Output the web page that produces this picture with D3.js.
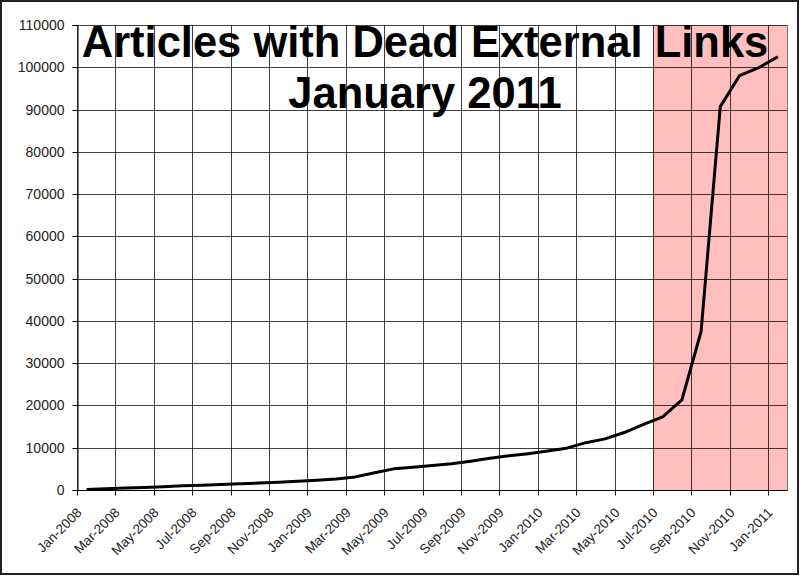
<!DOCTYPE html>
<html>
<head>
<meta charset="utf-8">
<script src="https://cdn.jsdelivr.net/npm/d3@7"></script>
<style>
  html, body { margin: 0; padding: 0; background: #fff; }
  svg { display: block; }
</style>
</head>
<body>
<svg id="chart" width="800" height="576"></svg>
<script>
const months = [
  "Jan-2008","Feb-2008","Mar-2008","Apr-2008","May-2008","Jun-2008","Jul-2008","Aug-2008","Sep-2008","Oct-2008","Nov-2008","Dec-2008",
  "Jan-2009","Feb-2009","Mar-2009","Apr-2009","May-2009","Jun-2009","Jul-2009","Aug-2009","Sep-2009","Oct-2009","Nov-2009","Dec-2009",
  "Jan-2010","Feb-2010","Mar-2010","Apr-2010","May-2010","Jun-2010","Jul-2010","Aug-2010","Sep-2010","Oct-2010","Nov-2010","Dec-2010",
  "Jan-2011"
];
const deadLinks = [
  100, 300, 500, 600, 750, 1000, 1150, 1300, 1450, 1650, 1850, 2050,
  2300, 2600, 3100, 4100, 5000, 5400, 5800, 6200, 6800, 7500, 8100, 8600,
  9200, 9900, 11200, 12100, 13600, 15500, 17300, 21300, 37500, 90700, 98000, 99900,
  102500
];
const xTickLabels = months.filter((d, i) => i % 2 === 0);
const yTicks = [0, 10000, 20000, 30000, 40000, 50000, 60000, 70000, 80000, 90000, 100000, 110000];
const highlightStart = "Jul-2010";
const titleLines = ["Articles with Dead External Links", "January 2011"];

const svg = d3.select("#chart");
const mLeft = 77, mRight = 787.5, mTop = 25, mBottom = 490;

const x = d3.scaleBand().domain(months).range([mLeft, mRight]).padding(0);
const y = d3.scaleLinear().domain([0, 110000]).range([mBottom, mTop]);

// outer border
svg.append("rect").attr("x", 1).attr("y", 1).attr("width", 797).attr("height", 573)
  .attr("fill", "#fff").attr("stroke", "#222").attr("stroke-width", 2);

// highlight region
svg.append("rect")
  .attr("x", x(highlightStart)).attr("y", mTop)
  .attr("width", mRight - x(highlightStart)).attr("height", mBottom - mTop)
  .attr("fill", "#ffbfbf");

// horizontal gridlines
svg.append("g").selectAll("line").data(yTicks).join("line")
  .attr("x1", mLeft).attr("x2", mRight)
  .attr("y1", d => Math.round(y(d)) + 0.5).attr("y2", d => Math.round(y(d)) + 0.5)
  .attr("stroke", "#000").attr("stroke-opacity", 0.75).attr("stroke-width", 1);

// vertical gridlines
svg.append("g").selectAll("line").data(xTickLabels).join("line")
  .attr("x1", d => Math.round(x(d)) + 0.5).attr("x2", d => Math.round(x(d)) + 0.5)
  .attr("y1", mTop).attr("y2", mBottom)
  .attr("stroke", "#000").attr("stroke-opacity", 0.75).attr("stroke-width", 1);

// right border of plot
svg.append("line").attr("x1", mRight).attr("x2", mRight).attr("y1", mTop).attr("y2", mBottom)
  .attr("stroke", "#777").attr("stroke-width", 1);

// Y axis
const yAxis = d3.axisLeft(y).tickValues(yTicks).tickFormat(d3.format("d")).tickSize(5).tickPadding(8);
const gy = svg.append("g").attr("transform", `translate(${mLeft + 0.5},0)`).call(yAxis);
gy.select(".domain").attr("stroke", "#000");
gy.selectAll(".tick line").attr("stroke", "#000");
gy.selectAll(".tick").attr("transform", d => `translate(0,${Math.round(y(d)) + 0.5})`);
gy.selectAll("text").attr("font-family", "Arial, 'Liberation Sans', sans-serif")
  .attr("font-size", 14).attr("fill", "#222");

// X axis (ticks at month band edges)
const xAxis = d3.axisBottom(x).tickValues(xTickLabels).tickSize(5).tickPadding(0);
const gx = svg.append("g").attr("transform", `translate(0,${mBottom + 0.5})`).call(xAxis);
gx.select(".domain").attr("stroke", "#000").attr("d", `M${mLeft},0H${mRight}`);
gx.selectAll(".tick").attr("transform", d => `translate(${Math.round(x(d)) + 0.5},0)`);
gx.selectAll(".tick line").attr("stroke", "#000");
gx.selectAll(".tick text")
  .attr("font-family", "Arial, 'Liberation Sans', sans-serif")
  .attr("font-size", 13.5).attr("fill", "#222")
  .attr("text-anchor", "end")
  .attr("dy", null).attr("y", null)
  .attr("transform", "translate(5,23) rotate(-45)");

// data line
const line = d3.line()
  .x((d, i) => x(months[i]) + x.bandwidth() / 2)
  .y(d => y(d));
svg.append("path").datum(deadLinks)
  .attr("d", line)
  .attr("fill", "none").attr("stroke", "#000").attr("stroke-width", 3)
  .attr("stroke-linejoin", "round");

// title
svg.append("g").selectAll("text").data(titleLines).join("text")
  .attr("x", 425).attr("y", (d, i) => 57 + i * 51)
  .attr("text-anchor", "middle")
  .attr("font-family", "Arial, 'Liberation Sans', sans-serif")
  .attr("font-weight", "bold").attr("font-size", 43.5)
  .attr("fill", "#000")
  .text(d => d);
</script>
</body>
</html>
